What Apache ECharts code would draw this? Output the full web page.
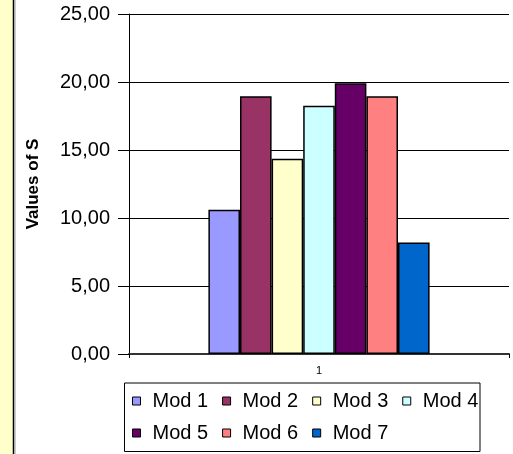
<!DOCTYPE html>
<html>
<head>
<meta charset="utf-8">
<script src="https://cdn.jsdelivr.net/npm/echarts@6/dist/echarts.min.js"></script>
<style>
html,body{margin:0;padding:0;background:#fff;}
#chart{width:513px;height:454px;}
</style>
</head>
<body>
<div id="chart"></div>
<script>
const categories = ['1'];
const seriesNames = ['Mod 1','Mod 2','Mod 3','Mod 4','Mod 5','Mod 6','Mod 7'];
const seriesValues = [10.6, 18.95, 14.35, 18.25, 19.9, 18.95, 8.2];
const seriesColors = ['#9999FF','#993366','#FFFFCC','#CCFFFF','#660066','#FF8080','#0066CC'];
const yTicks = [0, 5, 10, 15, 20, 25];
const yAxisTitle = 'Values of S';

const FONT = "'Liberation Sans', Arial, sans-serif";
const chart = echarts.init(document.getElementById('chart'), null, {renderer:'canvas'});

const series = seriesNames.map((name, i) => ({
  name: name,
  type: 'bar',
  data: [seriesValues[i]],
  barGap: '0%',
  barWidth: 31.6,
  itemStyle: { color: seriesColors[i], borderColor: '#000', borderWidth: 1.5 },
  emphasis: { disabled: true },
  animation: false
}));

const legendBase = {
  orient: 'horizontal',
  padding: 0,
  itemWidth: 8,
  itemHeight: 8,
  itemGap: 14,
  icon: 'rect',
  itemStyle: { borderColor: '#000', borderWidth: 1 },
  textStyle: { fontFamily: FONT, fontSize: 20, color: '#000', padding: [0,0,0,7] },
  selectedMode: false
};

chart.setOption({
  animation: false,
  backgroundColor: '#fff',
  grid: { left: 129, right: 4, top: 14, bottom: 100, containLabel: false },
  legend: [
    Object.assign({}, legendBase, { data: seriesNames.slice(0,4), left: 132, top: 391 }),
    Object.assign({}, legendBase, { data: seriesNames.slice(4), left: 132, top: 423 })
  ],
  xAxis: {
    type: 'category',
    data: categories,
    axisLine: { lineStyle: { color: '#333', width: 2 } },
    axisTick: { show: true, length: 4, lineStyle: { color: '#000' } },
    axisLabel: { fontFamily: FONT, fontSize: 11, color: '#000', margin: 11 }
  },
  yAxis: {
    type: 'value',
    min: yTicks[0],
    max: yTicks[yTicks.length-1],
    interval: yTicks[1]-yTicks[0],
    name: yAxisTitle,
    nameLocation: 'middle',
    nameRotate: 90,
    nameGap: 87,
    nameTextStyle: { fontFamily: FONT, fontSize: 17, fontWeight: 'bold', color: '#000' },
    axisLine: { show: true, lineStyle: { color: '#000', width: 1 } },
    axisTick: { show: true, length: 11, lineStyle: { color: '#000' } },
    axisLabel: {
      fontFamily: FONT, fontSize: 20, color: '#000', margin: 19,
      formatter: v => v.toFixed(2).replace('.', ',')
    },
    splitLine: { show: true, lineStyle: { color: '#000', width: 1 } }
  },
  graphic: [
    { type: 'rect', left: 0, top: 0, shape: { width: 13, height: 454 }, style: { fill: '#FFFFCC' }, silent: true },
    { type: 'line', shape: { x1: 13.5, y1: 0, x2: 13.5, y2: 454 }, style: { stroke: '#000', lineWidth: 1.5 }, silent: true },
    { type: 'line', shape: { x1: 15, y1: 0, x2: 15, y2: 454 }, style: { stroke: '#999', lineWidth: 1 }, silent: true },
    { type: 'rect', shape: { x: 124.5, y: 383, width: 355.5, height: 68.5 }, style: { fill: 'none', stroke: '#000', lineWidth: 1 }, silent: true }
  ],
  series: series
});
</script>
</body>
</html>
